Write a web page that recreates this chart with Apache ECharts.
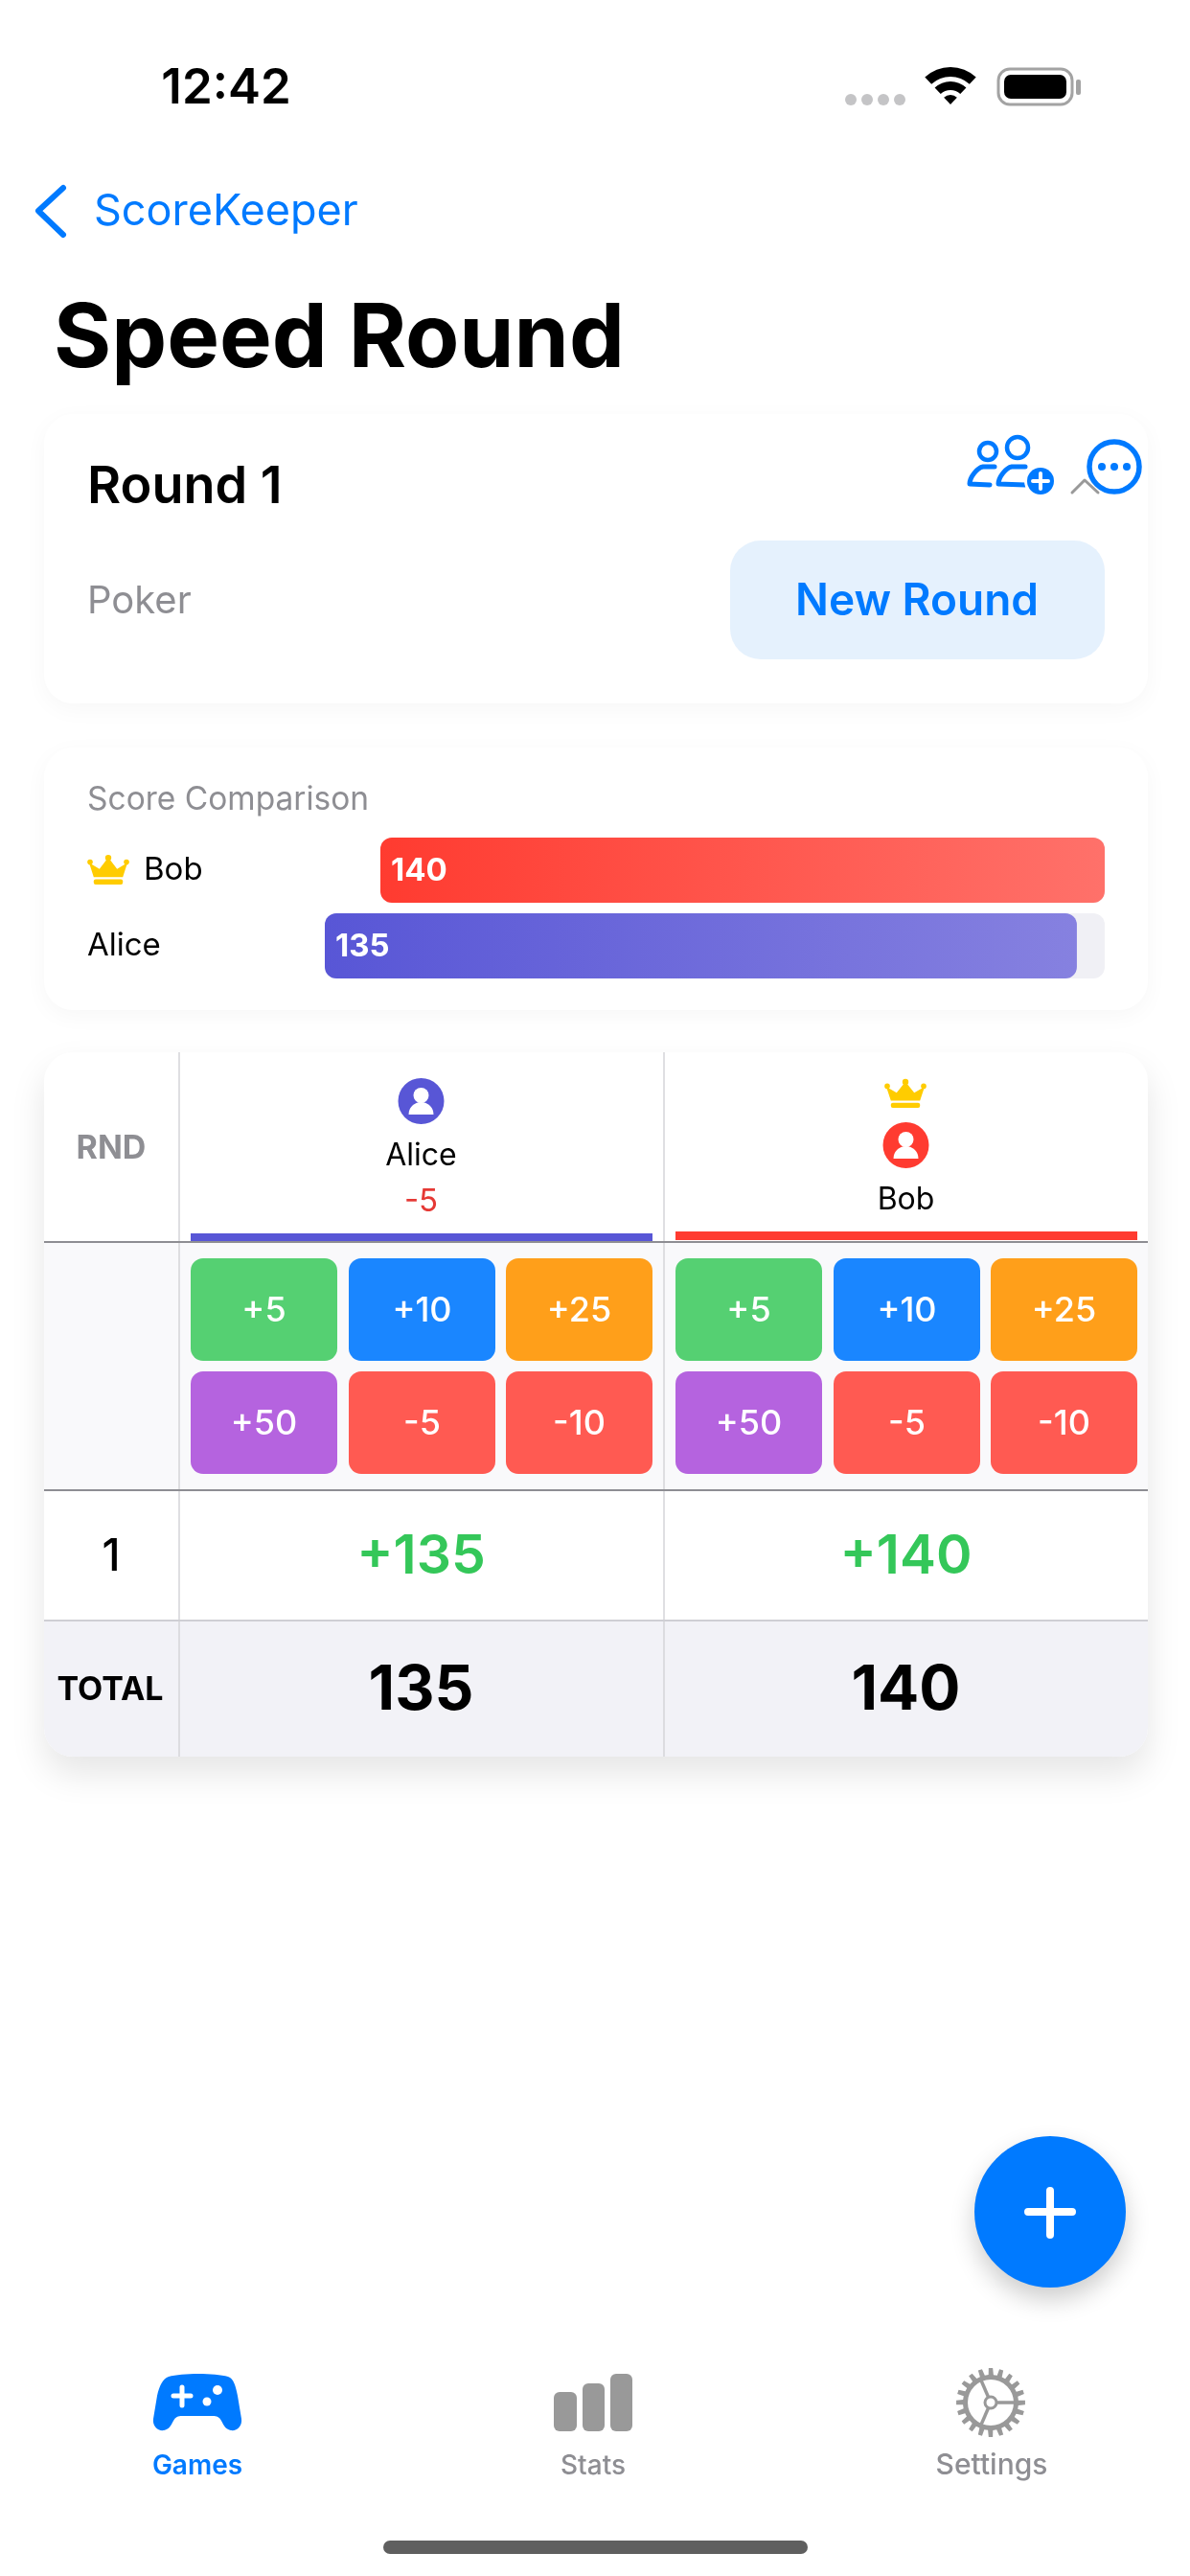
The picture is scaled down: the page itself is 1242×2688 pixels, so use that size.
<!DOCTYPE html>
<html>
<head>
<meta charset="utf-8">
<title>Speed Round</title>
<script src="https://cdn.jsdelivr.net/npm/echarts@6/dist/echarts.min.js"></script>
<style>
  html, body { margin: 0; padding: 0; background: #fff; }
  #main { width: 1242px; height: 2688px; }
</style>
</head>
<body>
<div id="main"></div>
<script>
// values
var players = ['Alice', 'Bob'];
var totals = [135, 140];
var roundLabels = ['1'];
var roundScores = ['+135', '+140'];
var lastChange = ['-5', ''];
var quickValues = ['+5', '+10', '+25', '+50', '-5', '-10'];
var tabLabels = ['Games', 'Stats', 'Settings'];

var BLUE = '#007AFF';
var GRAY = '#8E8E93';
var GOLD = '#FFCC00';
var FONT = 'Inter, "Noto Sans", sans-serif';
var playerColors = ['#5856D6', '#FF3B30'];
var barEndColors = ['#8681E0', '#FF716A'];
var quickColors = ['#55D072', '#1A86FF', '#FF9F1A', '#B563DF', '#FF5A52', '#FF5A52'];

var g = [];
var shapeCount = 0;

// the graphic component has no plain path type, so icons get registered as shapes
function pathShape(d) {
  var name = 'iconPath' + (shapeCount++);
  echarts.graphic.registerShape(name, echarts.graphic.extendPath(d));
  return name;
}

function txt(text, x, y, size, weight, color, align) {
  g.push({
    type: 'text', z: 5,
    style: {
      text: text, x: x, y: y + 1.5 + size * 0.03, fill: color,
      font: weight + ' ' + size + 'px ' + FONT,
      textAlign: align || 'center', textVerticalAlign: 'middle'
    }
  });
}

function box(x, y, w, h, r, fill, extra) {
  var style = { fill: fill };
  for (var k in (extra || {})) style[k] = extra[k];
  g.push({ type: 'rect', z: 1, shape: { x: x, y: y, width: w, height: h, r: r }, style: style });
}

function line(x1, y1, x2, y2, color, width) {
  g.push({ type: 'line', z: 2, shape: { x1: x1, y1: y1, x2: x2, y2: y2 }, style: { stroke: color, lineWidth: width } });
}

function dot(cx, cy, r, fill, z) {
  g.push({ type: 'circle', z: z || 3, shape: { cx: cx, cy: cy, r: r }, style: { fill: fill } });
}

function ring(cx, cy, r, color, width) {
  g.push({ type: 'circle', z: 3, shape: { cx: cx, cy: cy, r: r }, style: { fill: 'none', stroke: color, lineWidth: width } });
}

function stroke(d, color, width, z) {
  g.push({ type: pathShape(d), z: z || 3, style: { fill: 'none', stroke: color, lineWidth: width, lineCap: 'round', lineJoin: 'round' } });
}

function fillPath(d, color) {
  g.push({ type: pathShape(d), z: 3, style: { fill: color } });
}

function crown(cx, top, w, h) {
  var l = cx - w / 2, r = cx + w / 2, mid = top + h * 0.74;
  g.push({
    type: 'polygon', z: 3,
    shape: { points: [[l, top + h * 0.24], [l + w * 0.27, top + h * 0.46], [cx, top + h * 0.06], [r - w * 0.27, top + h * 0.46], [r, top + h * 0.24], [r - w * 0.12, mid], [l + w * 0.12, mid]] },
    style: { fill: GOLD }
  });
  dot(l + 1, top + h * 0.22, w * 0.07, GOLD);
  dot(cx, top + h * 0.07, w * 0.08, GOLD);
  dot(r - 1, top + h * 0.22, w * 0.07, GOLD);
  box(l + w * 0.12, top + h * 0.82, w * 0.76, h * 0.18, 2, GOLD);
}

function avatar(cx, cy, color) {
  dot(cx, cy, 24, color);
  dot(cx, cy - 6, 8, '#fff', 4);
  g.push({
    type: 'sector', z: 4,
    shape: { cx: cx, cy: cy + 14, r: 13, r0: 0, startAngle: Math.PI, endAngle: Math.PI * 2 },
    style: { fill: '#fff' }
  });
}

// status bar
txt('12:42', 236, 90, 51, 600, '#000');
[888, 905, 922, 939].forEach(function (x) { dot(x, 104, 6, '#C4C4C6'); });
[[29, 39], [15, 24], [0, 10]].forEach(function (a) {
  g.push({
    type: 'sector', z: 3,
    shape: { cx: 992, cy: 109, r0: a[0], r: a[1], startAngle: -Math.PI * 0.74, endAngle: -Math.PI * 0.26 },
    style: { fill: '#000' }
  });
});
g.push({ type: 'rect', z: 3, shape: { x: 1042, y: 72, width: 77, height: 37, r: 12 }, style: { fill: 'none', stroke: '#A3A3A3', lineWidth: 3 } });
box(1048, 78, 65, 25, 7, '#000');
box(1123, 83, 5, 16, 2, '#A3A3A3');

// nav
stroke('M66 196L40 220L66 245', BLUE, 6);
txt('ScoreKeeper', 98, 219, 45, 400, BLUE, 'left');
txt('Speed Round', 56, 351, 92, 700, '#000', 'left');

// round card
var soft = { shadowColor: 'rgba(0,0,0,0.035)', shadowBlur: 24, shadowOffsetY: 6 };
box(46, 432, 1152, 302, 30, '#fff', soft);
txt('Round 1', 91, 506, 54, 600, '#000', 'left');
txt('Poker', 91, 625, 40, 400, GRAY, 'left');
box(762, 564, 391, 124, 32, '#E5F1FD');
txt('New Round', 957, 625, 46, 600, BLUE);
ring(1031, 471, 9, BLUE, 4.5);
ring(1062, 467, 11, BLUE, 4.5);
stroke('M1038 487L1026 487C1020 488 1012 498 1012 505L1033 506', BLUE, 5);
stroke('M1070 487L1056 487C1050 488 1042 498 1042 505L1070 506', BLUE, 5);
dot(1086, 502, 17, '#fff');
dot(1086, 502, 14, BLUE, 4);
stroke('M1078 502L1094 502M1086 494L1086 510', '#fff', 4, 5);
ring(1163, 487, 26, BLUE, 5.5);
[1150, 1163, 1176].forEach(function (x) { dot(x, 487, 4, BLUE); });
stroke('M1119 514L1132 501L1146 514', '#999', 3);

// comparison card
box(46, 780, 1152, 274, 30, '#fff', soft);
txt('Score Comparison', 91, 832, 33.5, 400, GRAY, 'left');
crown(113, 893, 40, 30);

// score table
box(46, 1098, 1152, 735, 30, '#fff', { shadowColor: 'rgba(0,0,0,0.1)', shadowBlur: 36, shadowOffsetY: 18 });
box(46, 1296, 1152, 259, 0, '#F9F9FB');
box(46, 1691, 1152, 142, [0, 0, 30, 30], '#F2F2F7');
[187, 693].forEach(function (x) { line(x, 1098, x, 1833, '#D5D5D9', 1.5); });
line(46, 1296, 1198, 1296, '#8E8E93', 2);
line(46, 1555, 1198, 1555, '#8E8E93', 2);
line(46, 1691, 1198, 1691, '#CFCFD4', 2);

txt('RND', 116, 1196, 34, 700, GRAY);
txt(roundLabels[0], 116, 1622, 46, 500, '#000');
txt('TOTAL', 115, 1761, 34, 700, '#000');

var centers = [439.5, 945.5];
var headTop = [1149, 1195];
var stripeY = [1287, 1285];
var stripeX = [199, 705];
var cellX = [[199, 364, 528], [705, 870, 1034]];
var cellW = 153;
var cellY = [1313, 1431];

players.forEach(function (name, i) {
  avatar(centers[i], headTop[i], playerColors[i]);
  txt(name, centers[i], headTop[i] + 55, 32, 400, '#000');
  if (lastChange[i]) txt(lastChange[i], centers[i], 1252, 33, 400, '#E53935');
  box(stripeX[i], stripeY[i], 482, 9, 0, playerColors[i]);
  quickValues.forEach(function (v, k) {
    var col = k % 3, row = Math.floor(k / 3);
    box(cellX[i][col], cellY[row], cellW, 107, 13, quickColors[k]);
    txt(v, cellX[i][col] + cellW / 2, cellY[row] + 53, 36, 500, '#fff');
  });
  txt(roundScores[i], centers[i], 1622, 57, 600, '#34C759');
  txt(String(totals[i]), centers[i], 1761, 64, 700, '#000');
});
crown(945, 1127, 40, 29);

// floating button
g.push({
  type: 'circle', z: 2, shape: { cx: 1096, cy: 2308, r: 79 },
  style: { fill: BLUE, shadowColor: 'rgba(0,0,0,0.2)', shadowBlur: 26, shadowOffsetY: 12 }
});
stroke('M1073 2308L1119 2308M1096 2286L1096 2332', '#fff', 8);

// tab bar
fillPath('M176 2480C190 2476 224 2476 238 2480C244 2482 246 2490 248 2500L252 2524C253 2532 247 2537 241 2536C236 2535 234 2532 231 2526C229 2522 226 2521 222 2521L190 2521C186 2521 183 2522 181 2526C178 2532 176 2535 171 2536C165 2537 159 2532 160 2524L164 2500C166 2490 170 2482 176 2480Z', BLUE);
stroke('M181 2500L199 2500M190 2491L190 2510', '#fff', 5, 4);
dot(227, 2494, 5, '#fff', 4);
dot(216, 2506, 4.5, '#fff', 4);

box(578, 2496, 24, 41, 6, '#999');
box(608, 2487, 23, 50, 6, '#999');
box(637, 2477, 23, 60, 6, '#999');

// gear
var gearC = [1034, 2507], teeth = 20, pts = [];
for (var t = 0; t < teeth; t++) {
  var a = t / teeth * Math.PI * 2;
  [[-0.08, 29], [-0.06, 36], [0.06, 36], [0.1, 29]].forEach(function (p) {
    pts.push([gearC[0] + Math.cos(a + p[0]) * p[1], gearC[1] + Math.sin(a + p[0]) * p[1]]);
  });
}
g.push({ type: 'polygon', z: 3, shape: { points: pts }, style: { fill: '#999' } });
dot(gearC[0], gearC[1], 24, '#fff', 4);
[0, -Math.PI * 0.63, Math.PI * 0.63].forEach(function (a) {
  g.push({
    type: 'line', z: 5,
    shape: { x1: gearC[0], y1: gearC[1], x2: gearC[0] + Math.cos(a) * 26, y2: gearC[1] + Math.sin(a) * 26 },
    style: { stroke: '#999', lineWidth: 3.5 }
  });
});
g.push({ type: 'circle', z: 6, shape: { cx: gearC[0], cy: gearC[1], r: 6 }, style: { fill: '#fff', stroke: '#999', lineWidth: 3 } });

txt(tabLabels[0], 206, 2571, 28, 600, BLUE);
txt(tabLabels[1], 619, 2571, 28, 500, GRAY);
txt(tabLabels[2], 1035, 2571, 30, 500, GRAY);

box(400, 2651, 443, 14, 7, '#5F5F5F');

// bars: each row has its own track, scaled to the leader
var maxScore = Math.max.apply(null, totals);
var rowOrder = [1, 0];
var rowGrids = [
  { left: 397, top: 874, width: 756, height: 68 },
  { left: 339, top: 953, width: 814, height: 68 }
];
var labelMargin = [247, 248];

var chart = echarts.init(document.getElementById('main'));
chart.setOption({
  animation: false,
  backgroundColor: '#fff',
  graphic: { elements: g },
  grid: rowGrids,
  xAxis: rowOrder.map(function (p, i) {
    return { type: 'value', gridIndex: i, min: 0, max: maxScore, show: false };
  }),
  yAxis: rowOrder.map(function (p, i) {
    return {
      type: 'category', gridIndex: i, data: [players[p]], z: 6,
      axisLine: { show: false }, axisTick: { show: false },
      axisLabel: { align: 'left', margin: labelMargin[i], color: '#000', fontFamily: FONT, fontSize: 33, padding: [3, 0, 0, 0] }
    };
  }),
  series: rowOrder.map(function (p, i) {
    return {
      type: 'bar', xAxisIndex: i, yAxisIndex: i, barWidth: '100%',
      data: [totals[p]],
      showBackground: true,
      backgroundStyle: { color: '#F0F0F5', borderRadius: 12 },
      itemStyle: {
        borderRadius: 12,
        color: {
          type: 'linear', x: 0, y: 0, x2: 1, y2: 0,
          colorStops: [{ offset: 0, color: playerColors[p] }, { offset: 1, color: barEndColors[p] }]
        }
      },
      label: {
        show: true, position: 'insideLeft', distance: 11, offset: [0, 1],
        color: '#fff', fontFamily: FONT, fontSize: 33, fontWeight: 700
      }
    };
  })
});
</script>
</body>
</html>
